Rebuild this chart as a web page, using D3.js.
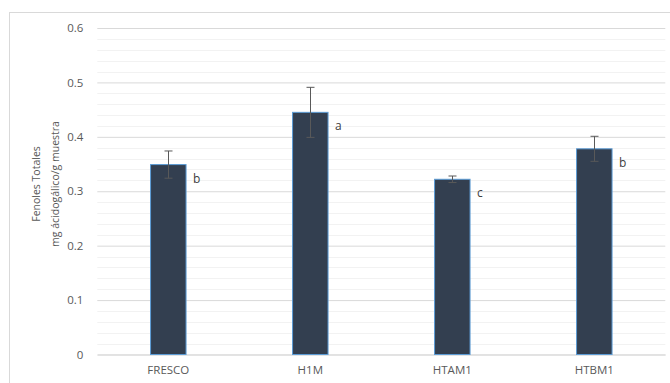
<!DOCTYPE html>
<html>
<head>
<meta charset="utf-8">
<script src="https://cdn.jsdelivr.net/npm/d3@7"></script>
<style>
  html, body { margin: 0; padding: 0; background: #fff; }
  svg { display: block; }
</style>
</head>
<body>
<svg id="chart" width="670" height="383"></svg>
<script>
// Total phenols per sample (mg gallic acid / g sample)
const categories = ["FRESCO", "H1M", "HTAM1", "HTBM1"];
const values = [0.349, 0.445, 0.322, 0.378];
const errors = [0.025, 0.046, 0.006, 0.023];
const groupLetters = ["b", "a", "c", "b"];
const yTicks = [0, 0.1, 0.2, 0.3, 0.4, 0.5, 0.6];
const yMinorTicks = d3.range(0.02, 0.6, 0.02).filter(v => Math.abs(v * 10 - Math.round(v * 10)) > 1e-6);
const yTitleLines = ["Fenoles Totales", "mg ácidogálico/g muestra"];

const svg = d3.select("#chart");
const W = 670, H = 383;
const margin = { left: 97.3, right: 670 - 665.3, top: 28, bottom: H - 354.5 };
const font = "'Open Sans', 'Noto Sans', sans-serif";

// chart frame (top and left edges visible)
svg.append("rect")
  .attr("x", 9.5).attr("y", 12.5)
  .attr("width", 700).attr("height", 400)
  .attr("fill", "none").attr("stroke", "#D9D9D9").attr("stroke-width", 1);

const x = d3.scaleBand()
  .domain(categories)
  .range([margin.left, W - margin.right])
  .paddingInner(0.75)
  .paddingOuter(0.375);

const y = d3.scaleLinear()
  .domain([0, 0.6])
  .range([H - margin.bottom, margin.top]);

// minor gridlines
svg.append("g").selectAll("line").data(yMinorTicks).join("line")
  .attr("x1", margin.left).attr("x2", W - margin.right)
  .attr("y1", d => Math.round(y(d)) + 0.5).attr("y2", d => Math.round(y(d)) + 0.5)
  .attr("stroke", "#F2F2F2").attr("stroke-width", 1);

// major gridlines + tick labels via axis
const yAxis = d3.axisLeft(y).tickValues(yTicks)
  .tickSize(-(W - margin.left - margin.right))
  .tickPadding(14)
  .tickFormat(d => d === 0 ? "0" : d3.format(".1f")(d));

const gy = svg.append("g")
  .attr("transform", `translate(${margin.left},0)`)
  .call(yAxis);
gy.select(".domain").remove();
gy.selectAll(".tick line").attr("stroke", "#D9D9D9").attr("stroke-width", 1);
gy.selectAll(".tick text")
  .attr("fill", "#595959").attr("font-family", font).attr("font-size", 11.5);

// x axis labels
const gx = svg.append("g")
  .attr("transform", `translate(0,${H - margin.bottom})`)
  .call(d3.axisBottom(x).tickSize(0).tickPadding(11));
gx.select(".domain").attr("stroke", "#D9D9D9");
gx.selectAll(".tick text")
  .attr("fill", "#595959").attr("font-family", font).attr("font-size", 11.5);

// bars
svg.append("g").selectAll("rect").data(categories).join("rect")
  .attr("x", d => x(d))
  .attr("y", (d, i) => y(values[i]))
  .attr("width", x.bandwidth())
  .attr("height", (d, i) => y(0) - y(values[i]))
  .attr("fill", "#333F50")
  .attr("stroke", "#5B9BD5").attr("stroke-width", 1);

// error bars
const eb = svg.append("g").attr("stroke", "#595959").attr("stroke-width", 1);
categories.forEach((c, i) => {
  const cx = Math.round(x(c) + x.bandwidth() / 2) + 0.5;
  const yt = y(values[i] + errors[i]);
  const yb = y(values[i] - errors[i]);
  eb.append("line").attr("x1", cx).attr("x2", cx).attr("y1", yt).attr("y2", yb);
  eb.append("line").attr("x1", cx - 4).attr("x2", cx + 4).attr("y1", yt).attr("y2", yt);
  eb.append("line").attr("x1", cx - 4).attr("x2", cx + 4).attr("y1", yb).attr("y2", yb);
});

// significance letters
svg.append("g").selectAll("text").data(categories).join("text")
  .attr("x", d => x(d) + x.bandwidth() + 7)
  .attr("y", (d, i) => y(values[i]) + 18)
  .attr("fill", "#404040")
  .attr("font-family", font).attr("font-size", 12)
  .text((d, i) => groupLetters[i]);

// y axis title
const title = svg.append("text")
  .attr("transform", "translate(40,184) rotate(-90)")
  .attr("text-anchor", "middle")
  .attr("fill", "#595959")
  .attr("font-family", font).attr("font-size", 10.5);
yTitleLines.forEach((t, i) => {
  title.append("tspan").attr("x", 0).attr("dy", i === 0 ? 0 : 19).text(t);
});
</script>
</body>
</html>
